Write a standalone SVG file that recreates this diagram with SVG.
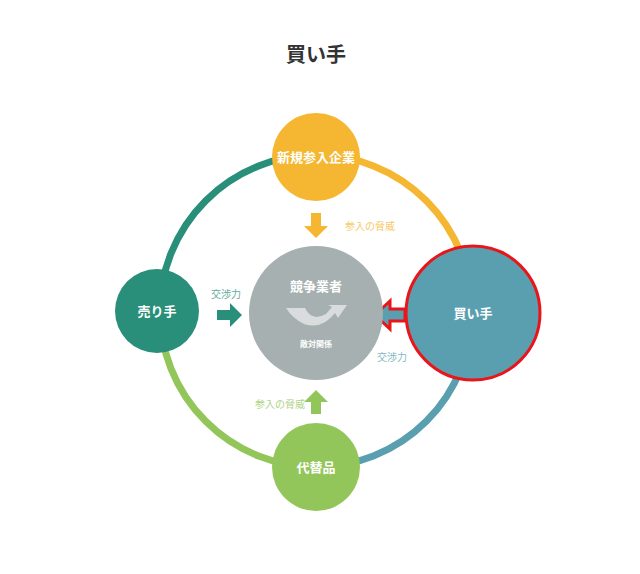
<svg xmlns="http://www.w3.org/2000/svg" width="640" height="574" viewBox="0 0 640 574">
<style>
text{font-family:"Noto Sans CJK JP","Noto Sans",sans-serif;text-anchor:middle}
.n{fill:#fff;font-weight:bold;font-size:13px}
.l{font-size:10px;opacity:0.75}
.ring{fill:none;stroke-width:7}
</style>
<rect width="640" height="574" fill="#fff"/>
<text x="316" y="62" font-size="20" font-weight="bold" fill="#333">買い手</text>
<g id="connectors">
<path class="ring" stroke="#2a8f7a" d="M160 311 A156 156 0 0 1 316 155"/>
<path class="ring" stroke="#f5b731" d="M316 155 A156 156 0 0 1 472 311"/>
<path class="ring" stroke="#5a9fb0" d="M472 311 A156 156 0 0 1 316 467"/>
<path class="ring" stroke="#93c65a" d="M316 467 A156 156 0 0 1 160 311"/>
<polygon fill="#f5b731" points="311,213 321,213 321,226 328,226 316,238 304,226 311,226"/>
<polygon fill="#2a8f7a" points="217,310 230,310 230,303 242,315 230,327 230,320 217,320"/>
<polygon fill="#5a9fb0" stroke="#e8151b" stroke-width="3" points="405,309 390,309 390,301 375,315 390,329 390,321 405,321"/>
<polygon fill="#93c65a" points="311,414 321,414 321,402 328,402 316,390 304,402 311,402"/>
<text class="l" x="370" y="230" fill="#f5b731">参入の脅威</text>
<text class="l" x="226" y="298" fill="#2a8f7a">交渉力</text>
<text class="l" x="392" y="361" fill="#5a9fb0">交渉力</text>
<text class="l" x="280" y="408" fill="#93c65a">参入の脅威</text>
</g>
<g id="competitor">
<circle cx="316" cy="313" r="67" fill="#a6b0b0"/>
<text class="n" x="316" y="291">競争業者</text>
<path d="M286 308 L305 308 Q312 322 326 314 L332 307 L328 305 L347 305 L338 318 L335 313 Q322 330 304 324 Q292 318 286 308Z" fill="#d8dcdc"/>
<text x="316" y="347" font-size="8" font-weight="bold" fill="#fff">敵対関係</text>
</g>
<g id="entrant"><circle cx="316" cy="157" r="44" fill="#f5b731"/><text class="n" x="316" y="162">新規参入企業</text></g>
<g id="supplier"><circle cx="157" cy="311" r="42" fill="#2a8f7a"/><text class="n" x="157" y="316">売り手</text></g>
<g id="buyer"><circle cx="473" cy="313" r="67" fill="#5a9fb0" stroke="#e8151b" stroke-width="3"/><text class="n" x="473" y="318">買い手</text></g>
<g id="substitute"><circle cx="316" cy="467" r="44" fill="#93c65a"/><text class="n" x="316" y="472">代替品</text></g>
</svg>
